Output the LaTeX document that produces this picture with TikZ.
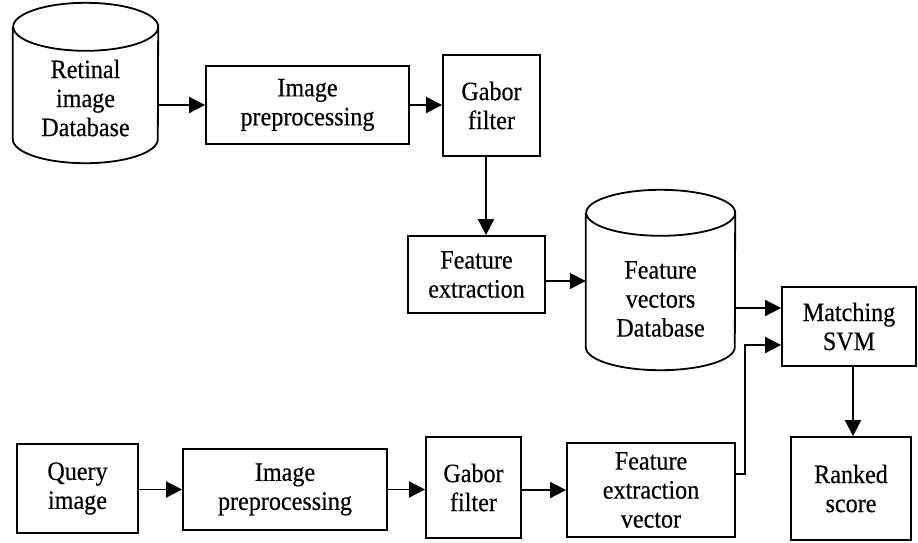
\documentclass[tikz,border=0pt]{standalone}
\usepackage{fontspec}
\setmainfont{Liberation Serif}[FakeStretch=0.91,FakeBold=0.4]
\usetikzlibrary{arrows.meta}
\begin{document}
\begin{tikzpicture}[x=1pt,y=1pt,
  box/.style={draw, line width=1.8pt, align=center, inner sep=0pt,
    font=\fontsize{26.5}{29}\selectfont},
  dbarea/.style={inner sep=0pt},
  dbtext/.style={align=center, inner sep=0pt, font=\fontsize{26.5}{29}\selectfont},
  arr/.style={line width=1.8pt, -{Triangle[length=16pt,width=16pt]}},
  ln/.style={line width=1.8pt}]
\useasboundingbox (0,0) rectangle (918,-542);

% cylinder outlines: invisible area node + drawn outline
\newcommand{\cyl}[2]{% #1 node name, #2 ellipse y radius
  \draw[ln] ([yshift=-#2]#1.north west) -- ([yshift=#2]#1.south west)
    arc[start angle=180, end angle=360, x radius=0.5*\cylw, y radius=#2]
    -- ([yshift=-#2]#1.north east)
    arc[start angle=0, end angle=360, x radius=0.5*\cylw, y radius=#2];}

% upper row
\node[dbarea, minimum width=145pt, minimum height=160pt] (db1) at (85.5,-83) {};
\def\cylw{145pt}\cyl{db1}{24pt}
\node[dbtext] (db1t) at (85.5,-98) {Retinal\\image\\Database};

\node[box, minimum width=203pt, minimum height=78pt] (pp1) at (307.5,-105) {Image\\preprocessing};
\node[box, minimum width=97pt, minimum height=101pt] (gb1) at (491.5,-105.5) {Gabor\\filter};
\node[box, minimum width=137pt, minimum height=77pt] (fe1) at (476.5,-274.5) {Feature\\extraction};

\node[dbarea, minimum width=149pt, minimum height=180pt] (db2) at (660.5,-280) {};
\def\cylw{149pt}\cyl{db2}{23pt}
\node[dbtext] (db2t) at (660.5,-299) {Feature\\vectors\\Database};

\node[box, minimum width=134pt, minimum height=79pt] (ms) at (849,-326.5) {Matching\\SVM};
\node[box, minimum width=120pt, minimum height=103pt] (rs) at (851,-488.5) {Ranked\\score};

% lower row
\node[box, minimum width=121pt, minimum height=89pt] (qi) at (77.5,-488.5) {Query\\image};
\node[box, minimum width=204pt, minimum height=81pt] (pp2) at (285,-489.5) {Image\\preprocessing};
\node[box, minimum width=95pt, minimum height=101pt] (gb2) at (473.5,-487.5) {Gabor\\filter};
\node[box, minimum width=168pt, minimum height=94pt] (fev) at (651,-490) {Feature\\extraction\\vector};

% connectors
\draw[arr] (db1.east |- pp1.west) -- (pp1.west);
\draw[arr] (pp1.east) -- (pp1.east -| gb1.west);
\draw[arr] ([xshift=-5.5pt]gb1.south) -- ([xshift=-5.5pt]gb1.south |- fe1.north);
\draw[arr] ([yshift=-6.5pt]fe1.east) -- ([yshift=-6.5pt]fe1.east -| db2.west);
\draw[arr] ([yshift=-28pt]db2.east) -- ([yshift=-28pt]db2.east -| ms.west);
\coordinate (bend) at (745,-345);
\draw[arr] ([yshift=16pt]fev.east) -| (bend) -- (bend -| ms.west);
\draw[arr] ([xshift=4pt]ms.south) -- ([xshift=4pt]ms.south |- rs.north);

\draw[arr] (qi.east |- pp2.west) -- (pp2.west);
\draw[arr] (pp2.east) -- (pp2.east -| gb2.west);
\draw[arr] (gb2.east |- fev.west) -- (fev.west);
\end{tikzpicture}
\end{document}
